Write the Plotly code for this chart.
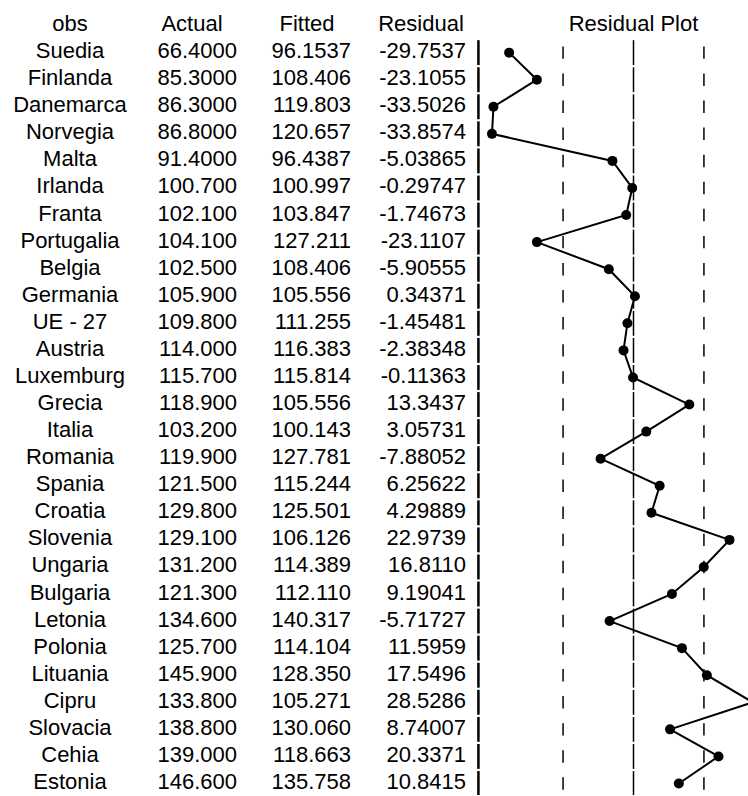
import plotly.graph_objects as go

obs = ["Suedia", "Finlanda", "Danemarca", "Norvegia", "Malta", "Irlanda", "Franta",
       "Portugalia", "Belgia", "Germania", "UE - 27", "Austria", "Luxemburg", "Grecia",
       "Italia", "Romania", "Spania", "Croatia", "Slovenia", "Ungaria", "Bulgaria",
       "Letonia", "Polonia", "Lituania", "Cipru", "Slovacia", "Cehia", "Estonia"]
actual = [66.4, 85.3, 86.3, 86.8, 91.4, 100.7, 102.1, 104.1, 102.5, 105.9, 109.8, 114.0,
          115.7, 118.9, 103.2, 119.9, 121.5, 129.8, 129.1, 131.2, 121.3, 134.6, 125.7,
          145.9, 133.8, 138.8, 139.0, 146.6]
fitted = [96.1537, 108.406, 119.803, 120.657, 96.4387, 100.997, 103.847, 127.211, 108.406,
          105.556, 111.255, 116.383, 115.814, 105.556, 100.143, 127.781, 115.244, 125.501,
          106.126, 114.389, 112.110, 140.317, 114.104, 128.350, 105.271, 130.060, 118.663,
          135.758]
residual = [-29.7537, -23.1055, -33.5026, -33.8574, -5.03865, -0.29747, -1.74673, -23.1107,
            -5.90555, 0.34371, -1.45481, -2.38348, -0.11363, 13.3437, 3.05731, -7.88052,
            6.25622, 4.29889, 22.9739, 16.8110, 9.19041, -5.71727, 11.5959, 17.5496,
            28.5286, 8.74007, 20.3371, 10.8415]
headers = ["obs", "Actual", "Fitted", "Residual"]
se = 16.85  # width of the dashed +/- band

FONT = "Liberation Sans, Arial, sans-serif"
FS = 22
W, H = 748, 796


def fmt(v):
    a = abs(v)
    if a < 10:
        d = 5
    elif a < 100:
        d = 4
    else:
        d = 3
    return f"{v:.{d}f}"


n = len(obs)
rows = list(range(n))

fig = go.Figure()

# ---- table text (xaxis2 in pixel-like units) ----
col_center = {"obs": 70, "Actual": 192, "Fitted": 307, "Residual": 421}
col_right = {"Actual": 237, "Fitted": 351, "Residual": 466}

fig.add_trace(go.Scatter(
    x=[col_center[h] for h in headers], y=[-1] * len(headers), text=headers,
    mode="text", textposition="middle center", xaxis="x2", yaxis="y",
    textfont=dict(family=FONT, size=FS, color="black"), hoverinfo="skip", showlegend=False))

fig.add_trace(go.Scatter(
    x=[col_center["obs"]] * n, y=rows, text=obs,
    mode="text", textposition="middle center", xaxis="x2", yaxis="y",
    textfont=dict(family=FONT, size=FS, color="black"), hoverinfo="skip", showlegend=False))

for name, vals in (("Actual", actual), ("Fitted", fitted), ("Residual", residual)):
    fig.add_trace(go.Scatter(
        x=[col_right[name]] * n, y=rows, text=[fmt(v) for v in vals],
        mode="text", textposition="middle left", xaxis="x2", yaxis="y",
        textfont=dict(family=FONT, size=FS, color="black"), hoverinfo="skip",
        showlegend=False))

# ---- residual plot guides ----
plot_left = -37.1


def segs(xval, half):
    xs, ys = [], []
    for i in rows:
        xs += [xval, xval, None]
        ys += [i - half, i + half, None]
    return xs, ys


xs, ys = segs(plot_left, 0.46)
fig.add_trace(go.Scatter(x=xs, y=ys, mode="lines", line=dict(color="black", width=2.5),
                         hoverinfo="skip", showlegend=False))
xs, ys = segs(0, 0.46)
fig.add_trace(go.Scatter(x=xs, y=ys, mode="lines", line=dict(color="black", width=1.5),
                         hoverinfo="skip", showlegend=False))
for s in (-se, se):
    xs, ys = segs(s, 0.23)
    fig.add_trace(go.Scatter(x=xs, y=ys, mode="lines", line=dict(color="black", width=1.5),
                             hoverinfo="skip", showlegend=False))

fig.add_trace(go.Scatter(
    x=residual, y=rows, mode="lines+markers",
    line=dict(color="black", width=2), marker=dict(color="black", size=10),
    hoverinfo="skip", showlegend=False))

fig.add_trace(go.Scatter(
    x=[0], y=[-1], text=["Residual Plot"], mode="text", textposition="middle center",
    textfont=dict(family=FONT, size=FS, color="black"), hoverinfo="skip",
    showlegend=False, cliponaxis=False))

# ---- layout ----
px_per_unit = 4.18
zero_px = 633.5
split_px = 470
xmin = (split_px - zero_px) / px_per_unit
xmax = (W - zero_px) / px_per_unit
shift = 0.075

fig.update_layout(
    width=W, height=H,
    margin=dict(l=0, r=0, t=10, b=1, pad=0),
    paper_bgcolor="white", plot_bgcolor="white",
    xaxis=dict(domain=[split_px / W, 1], range=[xmin, xmax], visible=False,
               showgrid=False, zeroline=False),
    xaxis2=dict(domain=[0, split_px / W], range=[0, split_px], visible=False,
                showgrid=False, zeroline=False, anchor="y"),
    yaxis=dict(range=[n - 0.5 - shift, -1.5 - shift], visible=False,
               showgrid=False, zeroline=False),
)

fig.write_html("out.html", config={"displayModeBar": False},
               post_script="document.body.style.margin='0';document.body.style.overflow='hidden';")
